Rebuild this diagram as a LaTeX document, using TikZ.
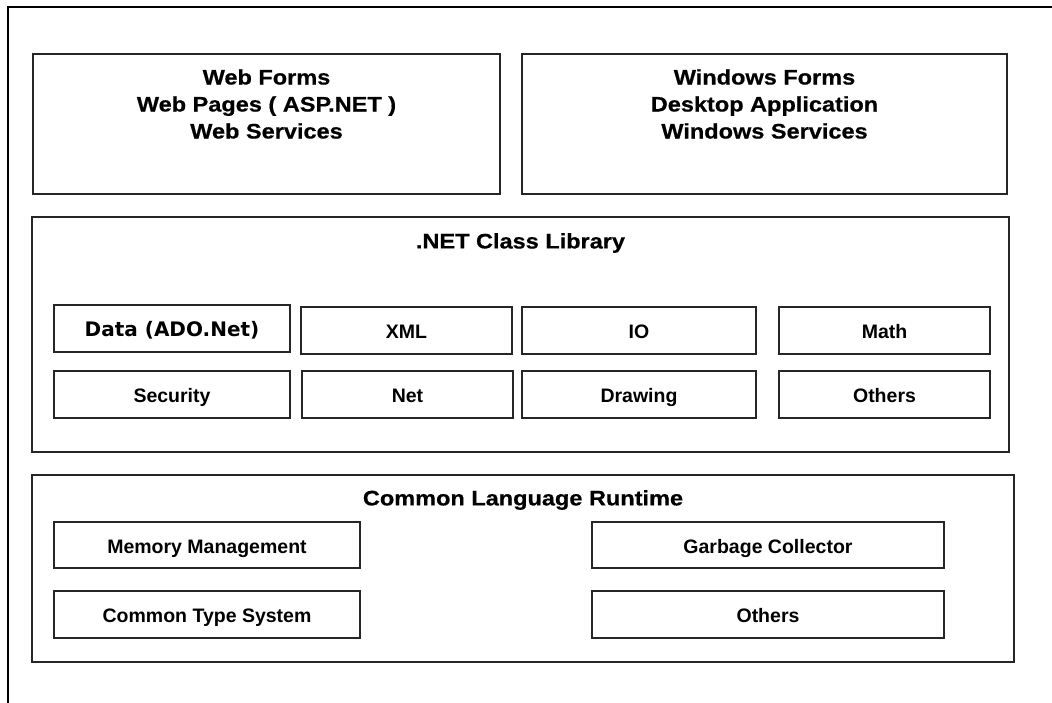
\documentclass[tikz,border=0pt]{standalone}
\usepackage{fontspec}
\setmainfont{Liberation Sans}
\newfontfamily\titlefont[FakeStretch=1.12,FakeBold=0.6]{Liberation Sans}
\newfontfamily\verdanafont{DejaVu Sans}
\begin{document}
\begin{tikzpicture}[x=1pt,y=-1pt,
  box/.style={draw=black!85, line width=1.1pt, inner sep=0pt, outer sep=0pt, rectangle},
  small/.style={box, minimum height=47pt, text height=16.5pt, text depth=0.5pt, font=\fontsize{19.5}{23}\selectfont\bfseries},
  ttl/.style={inner sep=0pt, align=center, font=\fontsize{21}{27}\selectfont\titlefont\bfseries}]
\useasboundingbox (0,0) rectangle (1052,703);
% outer frame
\coordinate (fa) at (8,703);
\coordinate (fb) at (8,7);
\coordinate (fc) at (1052,7);
\draw[line width=1.3pt, black] (fa) -- (fb) -- (fc);
% top boxes
\node[box, minimum width=467pt, minimum height=140pt] (web) at (266.5,124) {};
\node[ttl] (webtxt) at (266.5,104) {Web Forms\\Web Pages ( ASP.NET )\\Web Services};
\node[box, minimum width=485pt, minimum height=140pt] (win) at (764.5,124) {};
\node[ttl] (wintxt) at (764.5,104) {Windows Forms\\Desktop Application\\Windows Services};
% class library
\node[box, minimum width=977pt, minimum height=235pt] (lib) at (520.5,334.5) {};
\node[ttl] (libtxt) at (520.5,243) {.NET Class Library};
\node[small, minimum width=236pt, text height=15.5pt, text depth=0.5pt, font=\fontsize{20}{24}\selectfont\verdanafont\bfseries] (data) at (172,328.5) {Data (ADO.Net)};
\node[small, minimum width=211pt] (xml) at (406.5,330.5) {XML};
\node[small, minimum width=234pt] (io) at (639,330.5) {IO};
\node[small, minimum width=211pt] (math) at (884.5,330.5) {Math};
\node[small, minimum width=236pt] (sec) at (172,394.5) {Security};
\node[small, minimum width=211pt] (net) at (407.5,394.5) {Net};
\node[small, minimum width=234pt] (drw) at (639,394.5) {Drawing};
\node[small, minimum width=211pt] (oth1) at (884.5,394.5) {Others};
% CLR
\node[box, minimum width=982pt, minimum height=187pt] (clr) at (523,568.5) {};
\node[ttl] (clrtxt) at (523,500) {Common Language Runtime};
\node[small, minimum width=306pt, minimum height=46pt] (mem) at (207,545) {Memory Management};
\node[small, minimum width=306pt] (cts) at (207,614.5) {Common Type System};
\node[small, minimum width=352pt, minimum height=46pt] (gc) at (768,545) {Garbage Collector};
\node[small, minimum width=352pt] (oth2) at (768,614.5) {Others};
\end{tikzpicture}
\end{document}
